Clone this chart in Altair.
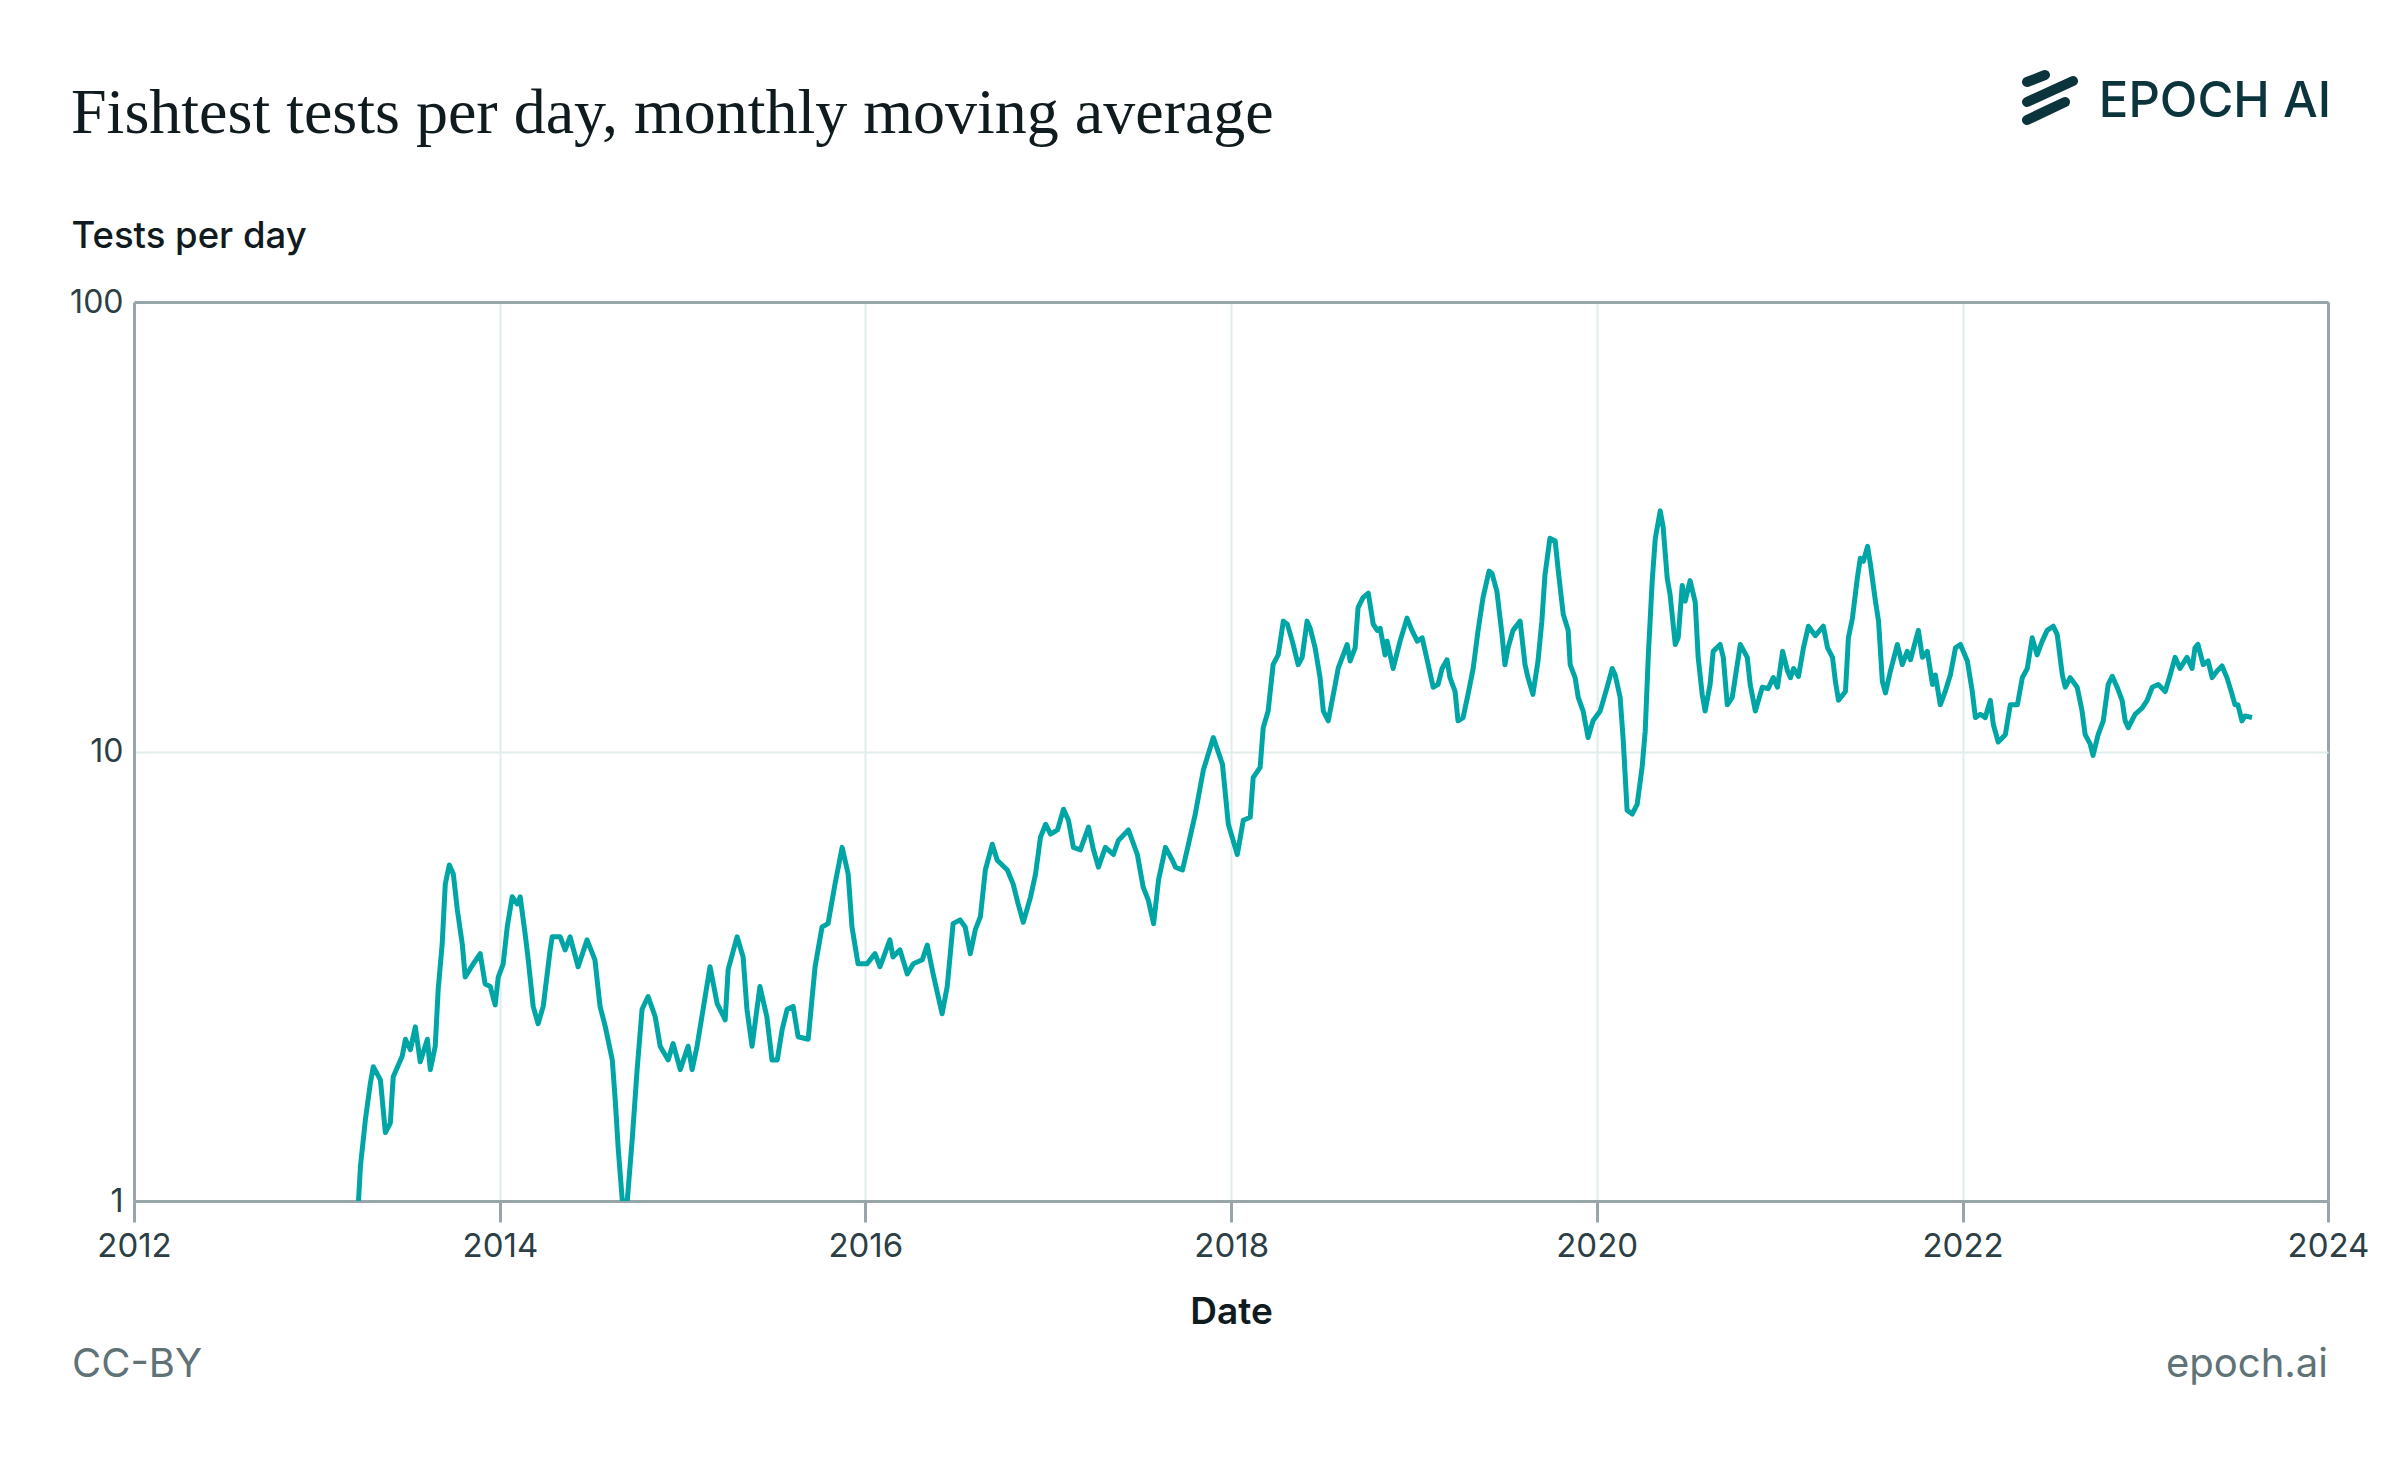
import altair as alt
import pandas as pd

# Decimal years and monthly moving average of tests per day
years = [
    2013.226, 2013.237, 2013.264, 2013.291, 2013.307, 2013.346, 2013.373, 2013.400, 2013.416, 2013.465,
    2013.483, 2013.510, 2013.537, 2013.564, 2013.603, 2013.619, 2013.646, 2013.662, 2013.684, 2013.701,
    2013.723, 2013.745, 2013.767, 2013.794, 2013.810, 2013.854, 2013.892, 2013.919, 2013.947, 2013.974,
    2013.991, 2014.018, 2014.040, 2014.067, 2014.095, 2014.111, 2014.138, 2014.155, 2014.182, 2014.209,
    2014.237, 2014.275, 2014.286, 2014.330, 2014.357, 2014.384, 2014.428, 2014.477, 2014.520, 2014.548,
    2014.577, 2014.615, 2014.631, 2014.648, 2014.670, 2014.697, 2014.724, 2014.751, 2014.778, 2014.811,
    2014.850, 2014.877, 2014.921, 2014.948, 2014.987, 2015.030, 2015.052, 2015.079, 2015.112, 2015.150,
    2015.189, 2015.233, 2015.249, 2015.298, 2015.331, 2015.352, 2015.380, 2015.423, 2015.461, 2015.489,
    2015.518, 2015.545, 2015.572, 2015.605, 2015.632, 2015.687, 2015.725, 2015.763, 2015.796, 2015.834,
    2015.873, 2015.906, 2015.927, 2015.960, 2016.009, 2016.053, 2016.080, 2016.134, 2016.151, 2016.189,
    2016.229, 2016.262, 2016.311, 2016.338, 2016.370, 2016.419, 2016.447, 2016.479, 2016.517, 2016.545,
    2016.573, 2016.600, 2016.628, 2016.655, 2016.693, 2016.720, 2016.775, 2016.807, 2016.834, 2016.862,
    2016.902, 2016.929, 2016.956, 2016.984, 2017.011, 2017.049, 2017.082, 2017.109, 2017.136, 2017.174,
    2017.219, 2017.246, 2017.273, 2017.311, 2017.355, 2017.382, 2017.437, 2017.486, 2017.518, 2017.546,
    2017.575, 2017.602, 2017.640, 2017.678, 2017.695, 2017.733, 2017.766, 2017.803, 2017.847, 2017.902,
    2017.952, 2017.984, 2018.033, 2018.066, 2018.104, 2018.120, 2018.158, 2018.175, 2018.202, 2018.229,
    2018.257, 2018.285, 2018.307, 2018.334, 2018.366, 2018.388, 2018.415, 2018.432, 2018.459, 2018.486,
    2018.504, 2018.531, 2018.569, 2018.585, 2018.613, 2018.634, 2018.651, 2018.678, 2018.694, 2018.721,
    2018.750, 2018.777, 2018.799, 2018.815, 2018.842, 2018.853, 2018.886, 2018.924, 2018.962, 2018.989,
    2019.018, 2019.045, 2019.078, 2019.105, 2019.132, 2019.154, 2019.181, 2019.197, 2019.225, 2019.241,
    2019.269, 2019.296, 2019.324, 2019.351, 2019.378, 2019.411, 2019.427, 2019.454, 2019.482, 2019.498,
    2019.515, 2019.542, 2019.581, 2019.608, 2019.624, 2019.651, 2019.679, 2019.700, 2019.717, 2019.744,
    2019.773, 2019.790, 2019.817, 2019.844, 2019.855, 2019.882, 2019.899, 2019.926, 2019.953, 2019.980,
    2020.019, 2020.057, 2020.085, 2020.101, 2020.128, 2020.145, 2020.166, 2020.194, 2020.221, 2020.248,
    2020.265, 2020.282, 2020.303, 2020.320, 2020.347, 2020.363, 2020.385, 2020.401, 2020.429, 2020.445,
    2020.467, 2020.483, 2020.510, 2020.538, 2020.554, 2020.576, 2020.592, 2020.619, 2020.636, 2020.674,
    2020.691, 2020.713, 2020.740, 2020.784, 2020.822, 2020.838, 2020.866, 2020.904, 2020.936, 2020.964,
    2020.987, 2021.015, 2021.042, 2021.058, 2021.075, 2021.102, 2021.129, 2021.156, 2021.194, 2021.238,
    2021.261, 2021.288, 2021.304, 2021.321, 2021.359, 2021.375, 2021.397, 2021.424, 2021.440, 2021.457,
    2021.480, 2021.496, 2021.523, 2021.540, 2021.561, 2021.578, 2021.605, 2021.643, 2021.670, 2021.697,
    2021.715, 2021.742, 2021.758, 2021.780, 2021.807, 2021.835, 2021.851, 2021.878, 2021.905, 2021.933,
    2021.961, 2021.988, 2022.026, 2022.053, 2022.070, 2022.097, 2022.124, 2022.152, 2022.168, 2022.195,
    2022.234, 2022.261, 2022.300, 2022.327, 2022.354, 2022.381, 2022.408, 2022.436, 2022.463, 2022.496,
    2022.518, 2022.546, 2022.562, 2022.589, 2022.627, 2022.654, 2022.671, 2022.698, 2022.714, 2022.742,
    2022.770, 2022.797, 2022.819, 2022.846, 2022.873, 2022.890, 2022.907, 2022.944, 2022.983, 2023.010,
    2023.038, 2023.071, 2023.109, 2023.136, 2023.163, 2023.190, 2023.228, 2023.256, 2023.272, 2023.288,
    2023.317, 2023.344, 2023.366, 2023.393, 2023.420, 2023.447, 2023.475, 2023.491, 2023.507, 2023.529,
    2023.546, 2023.584,
]

tests_per_day = [
    1.00, 1.20, 1.52, 1.83, 1.99, 1.86, 1.42, 1.49, 1.89, 2.10,
    2.29, 2.17, 2.44, 2.04, 2.29, 1.96, 2.21, 2.95, 3.73, 5.07,
    5.59, 5.34, 4.44, 3.73, 3.15, 3.37, 3.55, 3.04, 3.00, 2.73,
    3.15, 3.37, 4.07, 4.75, 4.58, 4.75, 3.93, 3.44, 2.71, 2.48,
    2.71, 3.62, 3.87, 3.87, 3.62, 3.87, 3.32, 3.81, 3.44, 2.71,
    2.44, 2.06, 1.68, 1.30, 1.00, 1.00, 1.37, 1.96, 2.67, 2.85,
    2.57, 2.21, 2.06, 2.24, 1.96, 2.21, 1.96, 2.21, 2.67, 3.32,
    2.75, 2.53, 3.27, 3.87, 3.49, 2.67, 2.21, 3.00, 2.57, 2.06,
    2.06, 2.41, 2.67, 2.71, 2.32, 2.29, 3.32, 4.07, 4.14, 5.07,
    6.12, 5.34, 4.07, 3.37, 3.37, 3.55, 3.32, 3.81, 3.49, 3.62,
    3.20, 3.37, 3.44, 3.71, 3.20, 2.61, 3.00, 4.14, 4.22, 4.07,
    3.55, 4.01, 4.29, 5.45, 6.22, 5.73, 5.45, 5.07, 4.58, 4.17,
    4.75, 5.34, 6.45, 6.89, 6.55, 6.69, 7.44, 7.03, 6.12, 6.04,
    6.79, 6.04, 5.53, 6.12, 5.90, 6.34, 6.69, 5.90, 4.99, 4.67,
    4.14, 5.18, 6.12, 5.73, 5.53, 5.45, 6.22, 7.26, 9.08, 10.74,
    9.36, 6.89, 5.90, 7.03, 7.14, 8.75, 9.22, 11.3, 12.3, 15.6,
    16.4, 19.5, 19.2, 17.6, 15.6, 16.2, 19.5, 18.8, 17.0, 14.6,
    12.3, 11.7, 14.1, 15.3, 16.4, 17.3, 15.9, 17.0, 20.9, 22.0,
    22.5, 19.2, 18.6, 18.8, 16.4, 17.6, 15.3, 17.6, 19.8, 18.6,
    17.6, 17.9, 15.6, 13.9, 14.1, 15.3, 16.0, 14.6, 13.6, 11.7,
    11.9, 13.4, 15.3, 18.6, 22.0, 25.2, 24.9, 22.7, 18.2, 15.6,
    17.0, 18.6, 19.5, 15.6, 14.6, 13.4, 15.9, 19.5, 24.7, 29.8,
    29.4, 25.2, 20.2, 18.6, 15.6, 14.6, 13.2, 12.3, 10.74, 11.7,
    12.3, 13.9, 15.3, 14.8, 13.2, 10.6, 7.40, 7.26, 7.63, 9.22,
    11.1, 16.4, 23.9, 29.8, 34.3, 31.5, 24.3, 22.3, 17.3, 17.9,
    23.4, 21.6, 24.0, 21.5, 16.2, 13.4, 12.3, 14.1, 16.7, 17.3,
    16.2, 12.7, 13.2, 17.3, 16.2, 14.1, 12.3, 13.9, 13.8, 14.6,
    13.9, 16.7, 15.1, 14.6, 15.3, 14.7, 17.0, 19.0, 18.1, 19.0,
    17.0, 16.2, 14.3, 13.0, 13.6, 17.9, 19.8, 24.3, 26.9, 26.5,
    28.6, 26.0, 21.6, 19.5, 14.3, 13.5, 15.1, 17.3, 15.6, 16.7,
    16.0, 17.6, 18.6, 16.2, 16.7, 14.1, 14.8, 12.7, 13.6, 14.8,
    17.0, 17.3, 15.9, 13.6, 11.9, 12.1, 11.9, 13.0, 11.5, 10.5,
    10.9, 12.7, 12.7, 14.6, 15.3, 17.9, 16.4, 17.6, 18.6, 19.0,
    18.2, 14.8, 13.9, 14.6, 13.9, 12.3, 10.9, 10.4, 9.8, 10.9,
    11.7, 14.1, 14.7, 13.9, 13.0, 11.7, 11.3, 12.1, 12.5, 13.0,
    13.9, 14.1, 13.6, 14.8, 16.2, 15.3, 16.2, 15.3, 17.0, 17.3,
    15.6, 15.9, 14.6, 15.1, 15.5, 14.6, 13.4, 12.7, 12.7, 11.7,
    12.0, 11.9,
]

assert len(years) == len(tests_per_day)

tick_years = [2012, 2014, 2016, 2018, 2020, 2022, 2024]
y_ticks = [1, 10, 100]

title_text = "Fishtest tests per day, monthly moving average"
y_title = "Tests per day"
x_title = "Date"
logo_text = "EPOCH AI"
footer_left = "CC-BY"
footer_right = "epoch.ai"


def to_stamp(y):
    yr = int(y)
    start = pd.Timestamp(year=yr, month=1, day=1)
    end = pd.Timestamp(year=yr + 1, month=1, day=1)
    return (start + (end - start) * (y - yr)).strftime("%Y-%m-%dT%H:%M:%S")


df = pd.DataFrame({"date": [to_stamp(y) for y in years], "value": tests_per_day})

W, H = 2194, 899
TEAL = "#00a6a6"
FRAME = "#98a6aa"
GRID = "#e1eded"
DARK = "#0f1b1e"
LOGO = "#0b343d"
SANS = "Inter"

line = alt.Chart(df).mark_line(color=TEAL, strokeWidth=5, clip=True, strokeJoin="round").encode(
    x=alt.X(
        "date:T",
        scale=alt.Scale(domain=[alt.DateTime(year=2012, month=1, date=1),
                                alt.DateTime(year=2024, month=1, date=1)]),
        axis=alt.Axis(
            title=x_title,
            values=[alt.DateTime(year=t, month=1, date=1) for t in tick_years],
            format="%Y",
            grid=True,
            gridColor=alt.condition("year(datum.value) >= 2024", alt.value(FRAME), alt.value(GRID)),
            gridWidth=alt.condition("year(datum.value) >= 2024", alt.value(3), alt.value(2)),
            ticks=True, tickColor=FRAME, tickSize=21, tickWidth=3,
            domainColor=FRAME, domainWidth=3,
            labelFont=SANS, labelFontSize=33, labelColor="#2c3f46", labelPadding=8,
            labelFlush=False,
            titleFont=SANS, titleFontSize=37, titleFontWeight=600, titleColor=DARK,
            titleY=122, titleBaseline="alphabetic",
        ),
    ),
    y=alt.Y(
        "value:Q",
        scale=alt.Scale(type="log", domain=[1, 100]),
        axis=alt.Axis(
            title=y_title,
            values=y_ticks,
            format="d",
            grid=True,
            gridColor=alt.condition("datum.value >= 100", alt.value(FRAME), alt.value(GRID)),
            gridWidth=alt.condition("datum.value >= 100", alt.value(3), alt.value(2)),
            ticks=False, labelPadding=11,
            domainColor=FRAME, domainWidth=3,
            labelFont=SANS, labelFontSize=32, labelColor="#2c3f46",
            titleFont=SANS, titleFontSize=36.5, titleFontWeight=500, titleColor=DARK,
            titleAngle=0, titleAlign="left", titleBaseline="alphabetic",
            titleX=-63, titleY=-55,
        ),
    ),
)


def text_layer(txt, x, y, size, font, color, align="left", weight="normal"):
    return alt.Chart(pd.DataFrame({"t": [txt]})).mark_text(
        align=align, baseline="alphabetic", font=font, fontSize=size,
        color=color, fontWeight=weight,
    ).encode(text="t:N", x=alt.value(x), y=alt.value(y))


title = text_layer(title_text, -63, -169, 64, "Liberation Serif", DARK)
logo = text_layer(logo_text, W + 3, -185, 49, SANS, LOGO, align="right", weight=500)
cc = text_layer(footer_left, -62, 1075, 40, SANS, "#5f7377")
site = text_layer(footer_right, W, 1075, 40, SANS, "#5f7377", align="right")


def bar(x1, y1, x2, y2):
    return alt.Chart(pd.DataFrame({"k": [0]})).mark_rule(
        color=LOGO, strokeWidth=10, strokeCap="round"
    ).encode(x=alt.value(x1), y=alt.value(y1), x2=alt.value(x2), y2=alt.value(y2))


bars = [
    bar(1893, -220, 1911, -227),
    bar(1893, -200, 1939, -221),
    bar(1893, -182, 1931, -200),
]

chart = alt.layer(line, title, logo, cc, site, *bars).properties(
    width=W, height=H,
    autosize=alt.AutoSizeParams(type="none"),
    padding={"left": 126, "top": 294, "right": 64, "bottom": 258},
).configure_view(stroke=FRAME, strokeWidth=3).configure(background="white")

chart.save("out.html", embed_options={"renderer": "svg", "actions": False})
